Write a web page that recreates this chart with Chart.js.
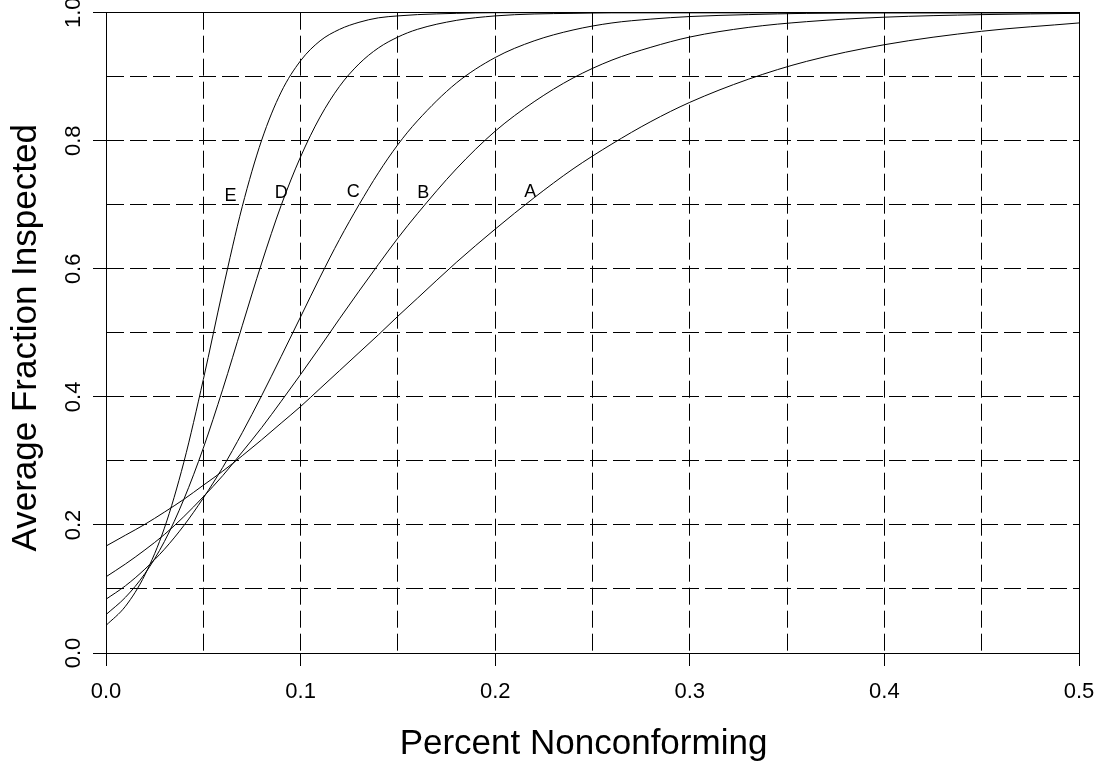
<!DOCTYPE html>
<html>
<head>
<meta charset="utf-8">
<script src="https://cdn.jsdelivr.net/npm/chart.js@4.4.1/dist/chart.umd.min.js"></script>
<style>
html,body{margin:0;padding:0;background:#fff;}
#wrap{width:1100px;height:767px;position:relative;}
</style>
</head>
<body>
<div id="wrap"><canvas id="c"></canvas></div>
<script>
// ---- data ----
const xValues = [0, 0.01, 0.02, 0.03, 0.04, 0.05, 0.06, 0.07, 0.08, 0.09, 0.10, 0.11, 0.12, 0.13, 0.14, 0.15, 0.16, 0.18, 0.20, 0.22, 0.24, 0.26, 0.28, 0.30, 0.33, 0.36, 0.40, 0.45, 0.50];
const curveA = [0.167, 0.184, 0.201, 0.220, 0.240, 0.262, 0.284, 0.308, 0.333, 0.359, 0.385, 0.413, 0.441, 0.469, 0.497, 0.526, 0.554, 0.610, 0.662, 0.711, 0.756, 0.795, 0.830, 0.860, 0.896, 0.924, 0.950, 0.971, 0.984];
const curveB = [0.119, 0.139, 0.161, 0.185, 0.213, 0.244, 0.277, 0.314, 0.352, 0.393, 0.435, 0.478, 0.522, 0.565, 0.607, 0.648, 0.686, 0.756, 0.815, 0.861, 0.898, 0.926, 0.946, 0.962, 0.977, 0.986, 0.993, 0.997, 0.999];
const curveC = [0.084, 0.105, 0.131, 0.162, 0.199, 0.242, 0.290, 0.344, 0.402, 0.463, 0.525, 0.587, 0.646, 0.700, 0.750, 0.794, 0.831, 0.890, 0.930, 0.956, 0.973, 0.984, 0.990, 0.994, 0.997, 0.999, 1.000, 1.000, 1.000];
const curveD = [0.060, 0.087, 0.124, 0.174, 0.240, 0.320, 0.412, 0.511, 0.609, 0.699, 0.775, 0.837, 0.885, 0.920, 0.945, 0.962, 0.974, 0.988, 0.995, 0.998, 0.999, 1.000, 1.000, 1.000, 1.000, 1.000, 1.000, 1.000, 1.000];
const curveE = [0.043, 0.073, 0.122, 0.195, 0.298, 0.427, 0.567, 0.697, 0.801, 0.876, 0.925, 0.956, 0.974, 0.985, 0.992, 0.995, 0.997, 0.999, 1.000, 1.000, 1.000, 1.000, 1.000, 1.000, 1.000, 1.000, 1.000, 1.000, 1.000];

const curveNames = ['A', 'B', 'C', 'D', 'E'];
const curveLabelX = [0.218, 0.163, 0.127, 0.090, 0.064];
const curveLabelY = [0.720, 0.718, 0.720, 0.718, 0.713];

const xGridValues = [0, 0.05, 0.1, 0.15, 0.2, 0.25, 0.3, 0.35, 0.4, 0.45, 0.5];
const yGridValues = [0, 0.1, 0.2, 0.3, 0.4, 0.5, 0.6, 0.7, 0.8, 0.9, 1.0];
const xTickValues = [0, 0.1, 0.2, 0.3, 0.4, 0.5];
const xTickLabels = ['0.0', '0.1', '0.2', '0.3', '0.4', '0.5'];
const yTickValues = [0, 0.2, 0.4, 0.6, 0.8, 1.0];
const yTickLabels = ['0.0', '0.2', '0.4', '0.6', '0.8', '1.0'];

const xTitle = 'Percent Nonconforming';
const yTitle = 'Average Fraction Inspected';

// ---- chart ----
const FONT = '"Liberation Sans", Arial, Helvetica, sans-serif';
const curves = [curveA, curveB, curveC, curveD, curveE];

function tickIndex(list, v) {
  for (let i = 0; i < list.length; i++) if (Math.abs(list[i] - v) < 1e-9) return i;
  return -1;
}

const datasets = curves.map((ys, k) => ({
  label: curveNames[k],
  data: xValues.map((xv, i) => ({x: xv, y: ys[i]})),
  borderColor: '#000',
  borderWidth: 1,
  pointRadius: 0,
  fill: false,
  cubicInterpolationMode: 'monotone'
}));

const decorations = {
  id: 'decorations',
  afterDatasetsDraw(chart) {
    const {ctx, scales: {x, y}} = chart;
    ctx.save();
    ctx.fillStyle = '#000';
    ctx.font = '18px ' + FONT;
    ctx.textAlign = 'center';
    ctx.textBaseline = 'middle';
    curveNames.forEach((n, i) => {
      ctx.fillText(n, x.getPixelForValue(curveLabelX[i]), y.getPixelForValue(curveLabelY[i]));
    });
    ctx.restore();
  },
  afterDraw(chart) {
    const {ctx, chartArea, scales: {x, y}} = chart;
    const l = Math.round(x.getPixelForValue(0) - 0.5) + 0.5;
    const r = Math.round(x.getPixelForValue(0.5) - 0.5) + 0.5;
    const t = Math.round(y.getPixelForValue(1) - 0.5) + 0.5;
    const b = Math.round(y.getPixelForValue(0) - 0.5) + 0.5;
    ctx.save();
    ctx.strokeStyle = '#000';
    ctx.lineWidth = 1;
    ctx.setLineDash([]);
    ctx.strokeRect(l, t, r - l, b - t);
    // axis titles
    ctx.fillStyle = '#000';
    ctx.font = '35px ' + FONT;
    ctx.textAlign = 'center';
    ctx.textBaseline = 'alphabetic';
    const cx = (chartArea.left + chartArea.right) / 2 - 9;
    ctx.fillText(xTitle, cx, 754);
    const cy = (chartArea.top + chartArea.bottom) / 2 + 5;
    ctx.translate(35.5, cy);
    ctx.rotate(-Math.PI / 2);
    ctx.fillText(yTitle, 0, 0);
    ctx.restore();
  }
};

new Chart(document.getElementById('c'), {
  type: 'line',
  data: {datasets},
  options: {
    responsive: true,
    maintainAspectRatio: false,
    animation: false,
    layout: {padding: {top: 12.7, right: 21, bottom: 0, left: 0}},
    plugins: {legend: {display: false}, tooltip: {enabled: false}},
    scales: {
      x: {
        type: 'linear', min: 0, max: 0.5, position: 'bottom',
        afterBuildTicks: s => { s.ticks = xGridValues.map(v => ({value: v})); },
        afterFit: s => { s.height = 114; s.paddingLeft = 0; s.paddingRight = 0; },
        ticks: {
          autoSkip: false, maxRotation: 0, minRotation: 0, padding: 13,
          color: '#000', font: {family: FONT, size: 22},
          callback: v => { const i = tickIndex(xTickValues, v); return i >= 0 ? xTickLabels[i] : ''; }
        },
        grid: {
          color: '#000', lineWidth: 1, tickLength: 13, tickWidth: 1,
          tickColor: c => (c.tick && tickIndex(xTickValues, c.tick.value) >= 0) ? '#000' : 'rgba(0,0,0,0)'
        },
        border: {display: true, color: '#000', width: 1, dash: [17, 6]},
        title: {display: false}
      },
      y: {
        type: 'linear', min: 0, max: 1, position: 'left',
        afterBuildTicks: s => { s.ticks = yGridValues.map(v => ({value: v})); },
        afterFit: s => { s.width = 106; s.paddingTop = 0; s.paddingBottom = 0; },
        ticks: {
          autoSkip: false, minRotation: 90, maxRotation: 90, crossAlign: 'center', padding: 4,
          color: '#000', font: {family: FONT, size: 22},
          callback: v => { const i = tickIndex(yTickValues, v); return i >= 0 ? yTickLabels[i] : ''; }
        },
        grid: {
          color: '#000', lineWidth: 1, tickLength: 13, tickWidth: 1,
          tickColor: c => (c.tick && tickIndex(yTickValues, c.tick.value) >= 0) ? '#000' : 'rgba(0,0,0,0)'
        },
        border: {display: true, color: '#000', width: 1, dash: [17, 6]},
        title: {display: false}
      }
    }
  },
  plugins: [decorations]
});
</script>
</body>
</html>
